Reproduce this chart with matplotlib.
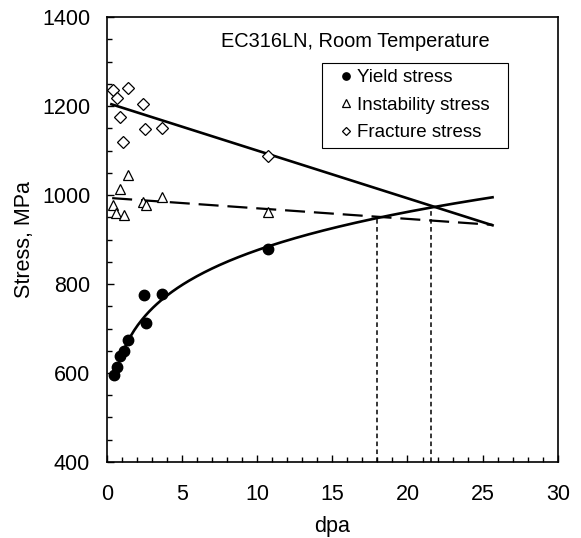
import matplotlib
matplotlib.use("Agg")
import matplotlib.pyplot as plt
import numpy as np
from matplotlib.patches import Rectangle
from matplotlib.ticker import MultipleLocator

plt.rcParams['font.family'] = ['Liberation Sans', 'DejaVu Sans']

# measured points (dpa, MPa)
yield_dpa = [0.47, 0.64, 0.86, 1.13, 1.40, 2.48, 2.60, 3.66, 10.69]
yield_mpa = [595, 613, 639, 649, 674, 775, 712, 777, 878]

inst_dpa = [0.42, 0.60, 0.86, 1.13, 1.40, 2.40, 2.60, 3.66, 10.69]
inst_mpa = [977, 960, 1013, 955, 1045, 985, 978, 995, 962]

frac_dpa = [0.42, 0.64, 0.87, 1.09, 1.38, 2.42, 2.55, 3.64, 10.69]
frac_mpa = [1236, 1219, 1176, 1119, 1241, 1205, 1149, 1151, 1088]

# trend lines
frac_line = ([0.3, 25.66], [1204, 932])
inst_line = ([0.35, 25.66], [993, 933])
yield_fit_a, yield_fit_n = 642, 0.135   # sigma = a * dpa**n
yield_fit_range = (0.55, 25.66)

# crossing points marked by drop lines
cross_dpa = [18.0, 21.56]
cross_mpa = [950, 970]


def main():
    fig = plt.figure(figsize=(5.81, 5.38), dpi=100)
    ax = fig.add_axes([0.184, 0.1413, 0.776, 0.827])

    xs = np.linspace(yield_fit_range[0], yield_fit_range[1], 200)
    ax.plot(xs, yield_fit_a * xs ** yield_fit_n, color="k", lw=1.9)
    ax.plot(*frac_line, color="k", lw=1.9)
    ax.plot(*inst_line, color="k", lw=1.6, dashes=(9, 4))
    for x, y in zip(cross_dpa, cross_mpa):
        ax.plot([x, x], [400, y], color="k", lw=1.1, dashes=(3, 2.2))

    ax.plot(yield_dpa, yield_mpa, "o", color="k", ms=7.5, label="Yield stress")
    ax.plot(inst_dpa, inst_mpa, "^", mfc="white", mec="k", mew=0.9, ms=7.5,
            label="Instability stress")
    ax.plot(frac_dpa, frac_mpa, "D", mfc="white", mec="k", mew=0.9, ms=6.3,
            label="Fracture stress")

    ax.text(16.5, 1344, "EC316LN, Room Temperature", fontsize=14.4,
            ha="center", va="center")

    # legend box drawn separately so the padding can be wider than tall
    box = (0.477, 0.706, 0.412, 0.191)
    ax.add_patch(Rectangle(box[:2], box[2], box[3], transform=ax.transAxes,
                           facecolor="white", edgecolor="k", lw=0.8, zorder=5))
    leg = ax.legend(loc="center",
                    bbox_to_anchor=(box[0] + box[2] / 2, box[1] + box[3] / 2),
                    borderaxespad=0, fontsize=13.5, markerscale=0.7,
                    handlelength=0.7, handletextpad=0.25, borderpad=0,
                    labelspacing=0.55, frameon=False)
    leg.set_zorder(6)

    ax.set_xlim(0, 30)
    ax.set_ylim(400, 1400)
    ax.xaxis.set_major_locator(MultipleLocator(5))
    ax.xaxis.set_minor_locator(MultipleLocator(1))
    ax.yaxis.set_major_locator(MultipleLocator(200))
    ax.yaxis.set_minor_locator(MultipleLocator(50))
    ax.tick_params(which="both", direction="in", labelsize=15.5, width=1)
    ax.tick_params(which="major", length=5)
    ax.tick_params(which="minor", length=3.5)
    ax.tick_params(axis="x", pad=16)
    ax.tick_params(axis="y", pad=12)
    for s in ax.spines.values():
        s.set_linewidth(1.2)

    ax.set_xlabel("dpa", fontsize=15.5, labelpad=8)
    ax.set_ylabel("Stress, MPa", fontsize=15.5, labelpad=5)

    fig.savefig("out.png", dpi=100)


if __name__ == "__main__":
    main()
